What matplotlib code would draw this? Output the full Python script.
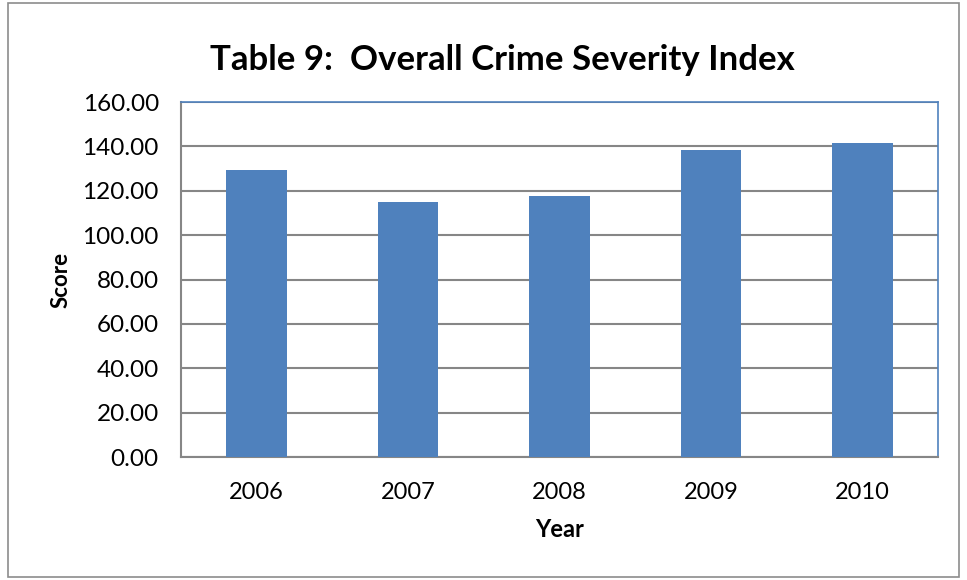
import matplotlib
matplotlib.use("Agg")
import matplotlib.pyplot as plt
from matplotlib.patches import Rectangle

years = ["2006", "2007", "2008", "2009", "2010"]
scores = [129.3, 114.9, 117.6, 138.3, 141.4]
yticks = [0, 20, 40, 60, 80, 100, 120, 140, 160]

plt.rcParams['font.family'] = ['Lato', 'DejaVu Sans']

fig = plt.figure(figsize=(9.67, 5.8), dpi=100)
ax = fig.add_axes([0.1872, 0.212, 0.783, 0.612])

# outer chart border
fig.patches.append(Rectangle((0.008, 0.006), 0.984, 0.988, transform=fig.transFigure,
                             fill=False, edgecolor='#8c8c8c', linewidth=1.2))

x = range(len(years))
ax.bar(x, scores, width=0.4, color='#4F81BD', zorder=3)

ax.set_xlim(-0.5, len(years) - 0.5)
ax.set_ylim(0, 160)
ax.set_yticks(yticks)
ax.set_yticklabels([f"{v:.2f}" for v in yticks], fontsize=17.5)
ax.set_xticks(list(x))
ax.set_xticklabels(years, fontsize=17)
ax.tick_params(length=0)
ax.tick_params(axis='x', pad=18)
ax.tick_params(axis='y', pad=16)

ax.grid(axis='y', color='#868686', linewidth=1.5, zorder=0)
for side in ['top', 'right']:
    ax.spines[side].set_color('#4F81BD')
    ax.spines[side].set_linewidth(1.2)
for side in ['left', 'bottom']:
    ax.spines[side].set_color('#868686')
    ax.spines[side].set_linewidth(1.5)

ax.set_xlabel("Year", fontsize=17, fontweight='bold', labelpad=11)
ax.set_ylabel("Score", fontsize=16, fontweight='bold', labelpad=8)
fig.text(0.52, 0.897, "Table 9:  Overall Crime Severity Index", ha='center', va='center',
         fontsize=25, fontweight='bold')

fig.savefig("out.png", dpi=100)
